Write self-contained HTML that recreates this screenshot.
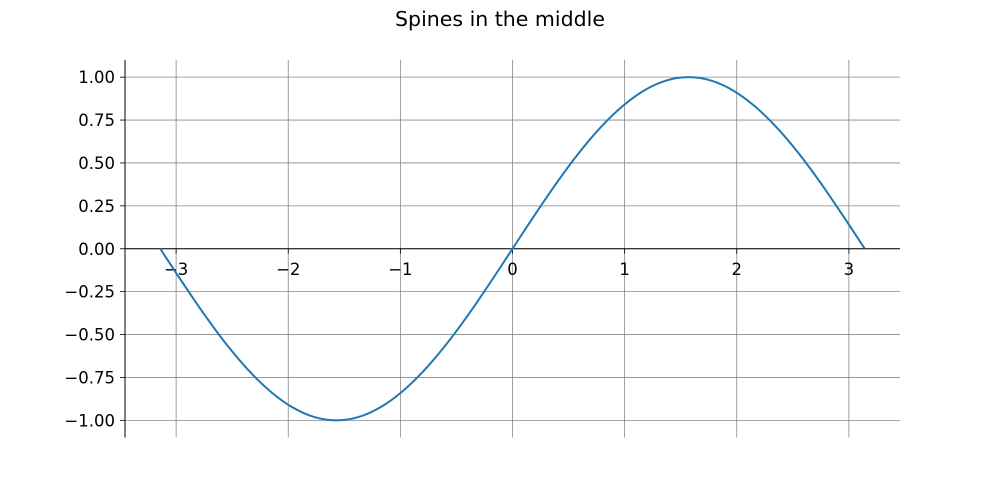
<!DOCTYPE html>
<html><head><meta charset="utf-8"><style>
body{margin:0;background:#fff;}
svg{display:block;font-family:"DejaVu Sans","Liberation Sans",sans-serif;}
</style></head><body>
<svg id="chart" width="1000" height="500">
<text x="500" y="26" text-anchor="middle" font-size="20.5" fill="#000">Spines in the middle</text>
<g id="grid"></g>
<g id="axes"></g>
<g id="series"></g>
</svg>
<script>
const xTicks=[-3,-2,-1,0,1,2,3];
const xTickLabels=["\u22123","\u22122","\u22121","0","1","2","3"];
const yTicks=[1,0.75,0.5,0.25,0,-0.25,-0.5,-0.75,-1];
const yTickLabels=["1.00","0.75","0.50","0.25","0.00","\u22120.25","\u22120.50","\u22120.75","\u22121.00"];
const xStart=-3.14159, xEnd=3.14159;
const yValues=[0,-0.195,-0.383,-0.556,-0.707,-0.831,-0.924,-0.981,-1,-0.981,-0.924,-0.831,-0.707,-0.556,-0.383,-0.195,0,0.195,0.383,0.556,0.707,0.831,0.924,0.981,1,0.981,0.924,0.831,0.707,0.556,0.383,0.195,0];
const X0=125,X1=900,Y0=60,Y1=437.5,xmin=-3.456,xmax=3.456,ymin=-1.1,ymax=1.1;
const sx=v=>X0+(v-xmin)/(xmax-xmin)*(X1-X0);
const sy=v=>Y1-(v-ymin)/(ymax-ymin)*(Y1-Y0);
const NS="http://www.w3.org/2000/svg";
function mk(t,a,p){const e=document.createElementNS(NS,t);for(const k in a)e.setAttribute(k,a[k]);p.appendChild(e);return e;}
const grid=document.getElementById('grid'),axes=document.getElementById('axes'),series=document.getElementById('series');
xTicks.forEach((v,i)=>{
 const g=mk('line',{x1:sx(v),x2:sx(v),y1:Y0,y2:Y1,stroke:'#888','stroke-width':0.8},grid);
 
 
 const t=mk('line',{x1:sx(v),x2:sx(v),y1:sy(0),y2:sy(0)+5,stroke:'#000','stroke-width':0.8},axes);
 
 
 const l=mk('text',{x:sx(v),y:sy(0)+26,'text-anchor':'middle','font-size':16.5},axes);
 l.textContent=xTickLabels[i];
 
 
});
yTicks.forEach((v,i)=>{
 const g=mk('line',{x1:X0,x2:X1,y1:sy(v),y2:sy(v),stroke:'#888','stroke-width':0.8},grid);
 
 
 const t=mk('line',{x1:X0-5,x2:X0,y1:sy(v),y2:sy(v),stroke:'#000','stroke-width':0.8},axes);
 
 
 const l=mk('text',{x:X0-10,y:sy(v)+6,'text-anchor':'end','font-size':16.5},axes);
 l.textContent=yTickLabels[i];
 
 
});
const ls=mk('line',{x1:X0,x2:X0,y1:Y0,y2:Y1,stroke:'#000','stroke-width':1},axes);


const bs=mk('line',{x1:X0,x2:X1,y1:sy(0),y2:sy(0),stroke:'#000','stroke-width':1},axes);


const n=yValues.length;
const P=yValues.map((y,i)=>[sx(xStart+(xEnd-xStart)*i/(n-1)),sy(y)]);
let d='M'+P[0][0].toFixed(2)+','+P[0][1].toFixed(2);
for(let i=0;i<n-1;i++){
 const p0=P[Math.max(i-1,0)],p1=P[i],p2=P[i+1],p3=P[Math.min(i+2,n-1)];
 const c1=[p1[0]+(p2[0]-p0[0])/6,p1[1]+(p2[1]-p0[1])/6];
 const c2=[p2[0]-(p3[0]-p1[0])/6,p2[1]-(p3[1]-p1[1])/6];
 d+=' C'+c1[0].toFixed(2)+','+c1[1].toFixed(2)+' '+c2[0].toFixed(2)+','+c2[1].toFixed(2)+' '+p2[0].toFixed(2)+','+p2[1].toFixed(2);
}
const pl=mk('path',{d:d,fill:'none',stroke:'#1f77b4','stroke-width':2,'stroke-linejoin':'round'},series);


</script>
</body></html>
